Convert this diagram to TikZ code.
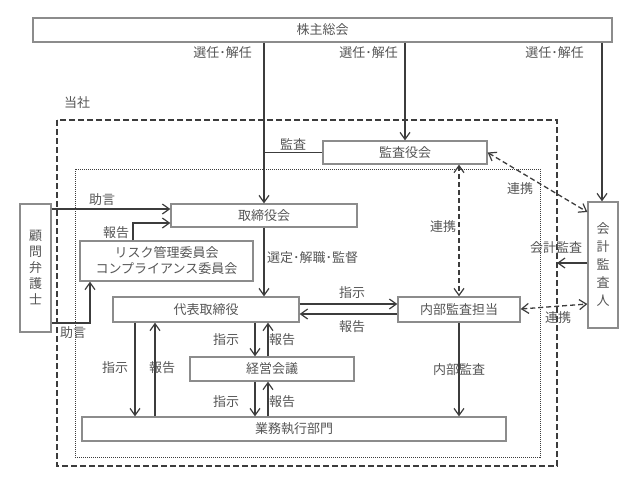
\documentclass[tikz,border=0pt]{standalone}
\usepackage{fontspec}
\setmainfont{Noto Sans CJK JP}
\usetikzlibrary{arrows.meta}
\definecolor{boxc}{HTML}{8C8C8C}
\definecolor{linec}{HTML}{3C3C3C}
\definecolor{txtc}{HTML}{555555}
\begin{document}
\begin{tikzpicture}[x=1pt,y=-1pt,
  font=\fontsize{13}{17}\selectfont,
  box/.style={draw=boxc, line width=1.3pt, inner sep=0pt, text=txtc},
  lbl/.style={text=txtc, inner sep=0pt},
  ln/.style={draw=linec, line width=1.3pt},
  arr/.style={ln, -{Straight Barb[length=7pt,width=10pt,line width=1.2pt]}},
  darr/.style={ln, dash pattern=on 5pt off 3pt, {Straight Barb[length=7pt,width=10pt,line width=1.2pt]}-{Straight Barb[length=7pt,width=10pt,line width=1.2pt]}}]
\useasboundingbox (0,0) rectangle (640,480);

% frames
\draw[draw=linec, line width=1.4pt, dash pattern=on 6pt off 3pt] (57,120) rectangle (557,466);
\draw[draw=linec, line width=0.9pt, dash pattern=on 1pt off 1pt] (75,169) rectangle (540,457);
\node[lbl] (tousha) at (77,103) {当社};

% boxes
\node[box, minimum width=164pt, minimum height=23pt] (kansayaku) at (405,152.5) {監査役会};
\node[box, minimum width=579pt, minimum height=24pt] (soukai) at (322.5,30) {株主総会};
\node[box, minimum width=186pt, minimum height=23pt] (torishimari) at (264,215.5) {取締役会};
\node[box, minimum width=31pt, minimum height=128pt, align=center, font=\fontsize{13}{16}\selectfont] (komon) at (35.5,268) {顧\\問\\弁\\護\\士};
\node[box, minimum width=173pt, minimum height=40pt, align=center, font=\fontsize{13}{16}\selectfont] (risk) at (166.5,261) {リスク管理委員会\\コンプライアンス委員会};
\node[box, minimum width=186pt, minimum height=25pt] (daihyo) at (206,309.5) {代表取締役};
\node[box, minimum width=122pt, minimum height=25pt] (naibu) at (459,309.5) {内部監査担当};
\node[box, minimum width=30pt, minimum height=126pt, align=center, font=\fontsize{13}{18}\selectfont] (kaikei) at (603,265) {会\\計\\監\\査\\人};
\node[box, minimum width=164pt, minimum height=24pt] (keiei) at (272,369) {経営会議};
\node[box, minimum width=424pt, minimum height=24pt] (gyomu) at (294,429) {業務執行部門};

% from 株主総会
\draw[arr] (264,0 |- soukai.south) -- (264,0 |- torishimari.north);
\draw[arr] (kansayaku.north |- soukai.south) -- (kansayaku.north);
\draw[arr] (602,0 |- soukai.south) -- (602,0 |- kaikei.north);
\node[lbl, anchor=east] (l1) at (252,53) {選任･解任};
\node[lbl, anchor=east] (l2) at (398,53) {選任･解任};
\node[lbl, anchor=east] (l3) at (584,53) {選任･解任};

% 監査
\draw[ln] (kansayaku.west) -- (264,0 |- kansayaku.west);
\node[lbl] (lkansa) at (293,144) {監査};

% 顧問弁護士 advice
\draw[arr] (komon.east |- 0,209) -- (torishimari.west |- 0,209);
\node[lbl] (ljogen1) at (102,200) {助言};
\draw[arr] (komon.east |- 0,323) -| (90,0 |- risk.south);
\node[lbl] (ljogen2) at (73,333) {助言};

% risk report
\draw[arr] (133,0 |- risk.north) |- (torishimari.west |- 0,223);
\node[lbl] (lhoukoku0) at (116,233) {報告};

% 取締役会 -> 代表取締役
\draw[arr] (torishimari.south) -- (264,0 |- daihyo.north);
\node[lbl, anchor=west] (lsentei) at (267,258) {選定･解職･監督};

% 代表取締役 <-> 内部監査担当
\draw[arr] (daihyo.east |- 0,304) -- (naibu.west |- 0,304);
\draw[arr] (naibu.west |- 0,314) -- (daihyo.east |- 0,314);
\node[lbl] (lshiji0) at (352,293) {指示};
\node[lbl] (lhoukoku1) at (352,327) {報告};

% 連携
\draw[darr] (naibu.north |- kansayaku.south) -- (naibu.north);
\node[lbl] (lrenkei1) at (443,227) {連携};
\draw[darr] (kansayaku.east) -- (kaikei.west |- 0,212);
\node[lbl] (lrenkei2) at (520,189) {連携};
\draw[darr] (naibu.east |- 0,309) -- (kaikei.west |- 0,304);
\node[lbl] (lrenkei3) at (558,318) {連携};

% 会計監査
\coordinate (kaend) at (557,263);
\draw[arr] (kaikei.west |- kaend) -- (kaend);
\node[lbl] (lkaikei) at (556,248) {会計監査};

% 内部監査
\draw[arr] (naibu.south) -- (naibu.south |- gyomu.north);
\node[lbl] (lnaibu) at (459,370) {内部監査};

% 代表取締役 <-> 業務執行部門
\draw[arr] (135,0 |- daihyo.south) -- (135,0 |- gyomu.north);
\draw[arr] (155,0 |- gyomu.north) -- (155,0 |- daihyo.south);
\node[lbl] (lshiji1) at (115,368) {指示};
\node[lbl] (lhoukoku2) at (162,368) {報告};

% 代表取締役 <-> 経営会議
\draw[arr] (255,0 |- daihyo.south) -- (255,0 |- keiei.north);
\draw[arr] (268,0 |- keiei.north) -- (268,0 |- daihyo.south);
\node[lbl] (lshiji2) at (226,340) {指示};
\node[lbl] (lhoukoku3) at (282,340) {報告};

% 経営会議 <-> 業務執行部門
\draw[arr] (255,0 |- keiei.south) -- (255,0 |- gyomu.north);
\draw[arr] (268,0 |- gyomu.north) -- (268,0 |- keiei.south);
\node[lbl] (lshiji3) at (226,402) {指示};
\node[lbl] (lhoukoku4) at (282,402) {報告};
\end{tikzpicture}
\end{document}
